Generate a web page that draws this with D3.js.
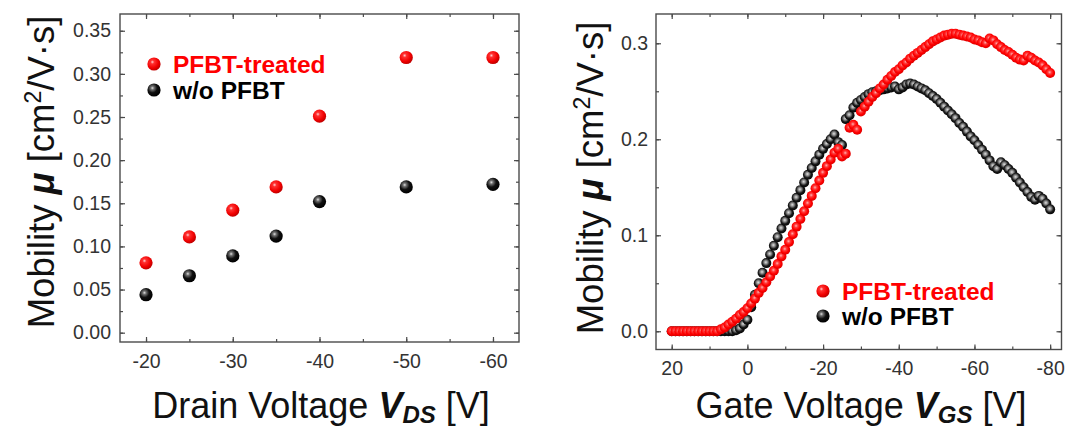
<!DOCTYPE html>
<html><head><meta charset="utf-8">
<script src="https://cdn.jsdelivr.net/npm/d3@7"></script>
<style>
body{margin:0;background:#fff}
svg{display:block}
text{font-family:"Liberation Sans",Arial,Helvetica,sans-serif}
</style>
</head><body>
<svg id="chart" width="1067" height="429"></svg>
<script>
// ---------- Left panel data (mobility vs drain voltage) ----------
const vdsValues = [-20, -25, -30, -35, -40, -50, -60];
const mobTreatedVds = [0.081, 0.111, 0.142, 0.169, 0.251, 0.319, 0.319];
const mobUntreatedVds = [0.044, 0.066, 0.089, 0.112, 0.152, 0.169, 0.172];
const vdsTicks = [-20, -30, -40, -50, -60];
const vdsMinorTicks = [-20, -25, -30, -35, -40, -45, -50, -55, -60];
const leftYTicks = [0, 0.05, 0.10, 0.15, 0.20, 0.25, 0.30, 0.35];
const leftYTickLabels = ["0.00", "0.05", "0.10", "0.15", "0.20", "0.25", "0.30", "0.35"];
const leftYMinorTicks = [0, 0.025, 0.05, 0.075, 0.10, 0.125, 0.15, 0.175, 0.20, 0.225, 0.25, 0.275, 0.30, 0.325, 0.35];

// ---------- Right panel data (mobility vs gate voltage) ----------
const vgsValues = [20, 19, 18, 17, 16, 15, 14, 13, 12, 11, 10, 9, 8, 7, 6, 5, 4, 3, 2, 1, 0,
  -1, -2, -3, -4, -5, -6, -7, -8, -9, -10, -11, -12, -13, -14, -15, -16, -17, -18, -19, -20,
  -21, -22, -23, -24, -25, -26, -27, -28, -29, -30, -31, -32, -33, -34, -35, -36, -37, -38, -39, -40,
  -41, -42, -43, -44, -45, -46, -47, -48, -49, -50, -51, -52, -53, -54, -55, -56, -57, -58, -59, -60,
  -61, -62, -63, -64, -65, -66, -67, -68, -69, -70, -71, -72, -73, -74, -75, -76, -77, -78, -79, -80];
const mobTreatedVgs = [0, 0, 0, 0, 0, 0, 0, 0, 0, 0, 0, 0, 0,
  0.002, 0.004, 0.007, 0.010, 0.013, 0.017, 0.020, 0.024,
  0.029, 0.034, 0.040, 0.045, 0.051, 0.057, 0.063, 0.070, 0.078, 0.085,
  0.093, 0.101, 0.109, 0.117, 0.125, 0.133, 0.141, 0.149, 0.157, 0.165,
  0.172, 0.179, 0.186, 0.190, 0.182, 0.185, 0.212, 0.215, 0.210, 0.229,
  0.234, 0.239, 0.244, 0.248, 0.253, 0.257, 0.262, 0.266, 0.270, 0.273,
  0.277, 0.280, 0.284, 0.287, 0.290, 0.293, 0.296, 0.299, 0.302, 0.304,
  0.306, 0.308, 0.309, 0.310, 0.310, 0.309, 0.308, 0.307, 0.306, 0.304,
  0.303, 0.301, 0.300, 0.305, 0.303, 0.299, 0.296, 0.293, 0.291, 0.288,
  0.285, 0.283, 0.282, 0.287, 0.285, 0.282, 0.280, 0.277, 0.273, 0.269];
const mobUntreatedVgs = [0, 0, 0, 0, 0, 0, 0, 0, 0, 0, 0, 0, 0, 0, 0, 0, 0,
  0.001, 0.003, 0.007, 0.012,
  0.025, 0.038, 0.050, 0.061, 0.071, 0.080, 0.089, 0.098, 0.107, 0.115,
  0.123, 0.131, 0.139, 0.147, 0.155, 0.163, 0.170, 0.177, 0.184, 0.190,
  0.195, 0.200, 0.205, 0.197, 0.194, 0.221, 0.225, 0.233, 0.238, 0.241,
  0.244, 0.247, 0.249, 0.250, 0.251, 0.252, 0.253, 0.254, 0.255, 0.252,
  0.254, 0.257, 0.258, 0.257, 0.255, 0.253, 0.251, 0.248, 0.245, 0.242,
  0.238, 0.234, 0.230, 0.226, 0.222, 0.217, 0.213, 0.208, 0.203, 0.199,
  0.194, 0.189, 0.184, 0.178, 0.172, 0.169, 0.176, 0.173, 0.169, 0.165,
  0.160, 0.155, 0.150, 0.145, 0.140, 0.137, 0.141, 0.138, 0.133, 0.127];
const vgsTicks = [20, 0, -20, -40, -60, -80];
const vgsMinorTicks = [20, 10, 0, -10, -20, -30, -40, -50, -60, -70, -80];
const rightYTicks = [0, 0.1, 0.2, 0.3];
const rightYTickLabels = ["0.0", "0.1", "0.2", "0.3"];
const rightYMinorTicks = [0, 0.05, 0.1, 0.15, 0.2, 0.25, 0.3];

const seriesNames = ["PFBT-treated", "w/o PFBT"];

// ---------- Drawing ----------
const svg = d3.select("#chart");
const defs = svg.append("defs");
function grad(id, stops, cx, cy, r) {
  const g = defs.append("radialGradient").attr("id", id)
    .attr("cx", cx).attr("cy", cy).attr("r", r).attr("fx", cx).attr("fy", cy);
  stops.forEach(s => g.append("stop").attr("offset", s[0]).attr("stop-color", s[1]));
}
grad("redBig", [["0%", "#ffd0d0"], ["22%", "#ff3030"], ["70%", "#f00000"], ["100%", "#c00000"]], "38%", "35%", "65%");
grad("blackBig", [["0%", "#e0e0e0"], ["20%", "#707070"], ["55%", "#101010"], ["100%", "#000"]], "38%", "35%", "65%");
grad("redSmall", [["0%", "#ffb0b0"], ["30%", "#ff3a3a"], ["65%", "#ff0000"], ["100%", "#d80000"]], "45%", "42%", "60%");
grad("blackSmall", [["0%", "#e0e0e0"], ["30%", "#8a8a8a"], ["62%", "#1a1a1a"], ["100%", "#000"]], "45%", "42%", "60%");

const frameColor = "#4a4a4a";
const tickColor = "#333";

function panel(cfg) {
  const g = svg.append("g");
  const x = cfg.x, y = cfg.y;
  const [x0, x1] = x.range();
  const [y0, y1] = y.range(); // y0 bottom, y1 top
  const minorLen = 3, majorLen = 5;
  const addAxis = (axis, tr) => {
    const a = g.append("g").attr("transform", tr).call(axis);
    a.select(".domain").remove();
    a.selectAll("line").attr("stroke", frameColor).attr("stroke-width", 1.2);
    return a;
  };
  addAxis(d3.axisBottom(x).tickValues(cfg.xMinor).tickSize(-minorLen).tickFormat(""), `translate(0,${y0})`);
  addAxis(d3.axisTop(x).tickValues(cfg.xMinor).tickSize(-minorLen).tickFormat(""), `translate(0,${y1})`);
  addAxis(d3.axisLeft(y).tickValues(cfg.yMinor).tickSize(-minorLen).tickFormat(""), `translate(${x0},0)`);
  addAxis(d3.axisRight(y).tickValues(cfg.yMinor).tickSize(-minorLen).tickFormat(""), `translate(${x1},0)`);
  const bx = addAxis(d3.axisBottom(x).tickValues(cfg.xTicks).tickSize(-majorLen).tickPadding(cfg.xPad)
      .tickFormat(d => String(d)), `translate(0,${y0})`);
  addAxis(d3.axisTop(x).tickValues(cfg.xTicks).tickSize(-majorLen).tickFormat(""), `translate(0,${y1})`);
  const ly = addAxis(d3.axisLeft(y).tickValues(cfg.yTicks).tickSize(-majorLen).tickPadding(cfg.yPad)
      .tickFormat((d, i) => cfg.yLabels[i]), `translate(${x0},0)`);
  addAxis(d3.axisRight(y).tickValues(cfg.yTicks).tickSize(-majorLen).tickFormat(""), `translate(${x1},0)`);
  [bx, ly].forEach(a => a.selectAll("text").attr("fill", tickColor)
      .style("font-size", "19.5px").style("font-family", '"Liberation Sans",Arial,sans-serif'));
  g.append("rect").attr("x", x0).attr("y", y1).attr("width", x1 - x0).attr("height", y0 - y1)
    .attr("fill", "none").attr("stroke", frameColor).attr("stroke-width", 1.4);
  return g;
}

// Left panel
const xL = d3.scaleLinear().domain([-17, -63]).range([120, 519]);
const yL = d3.scaleLinear().domain([-0.0108, 0.3694]).range([342, 14]);
const gL = panel({x: xL, y: yL, xTicks: vdsTicks, xMinor: vdsMinorTicks, yTicks: leftYTicks,
  yLabels: leftYTickLabels, yMinor: leftYMinorTicks, xPad: 12, yPad: 9});
gL.append("g").selectAll("circle").data(vdsValues).join("circle")
  .attr("cx", d => xL(d)).attr("cy", (d, i) => yL(mobUntreatedVds[i])).attr("r", 6.6)
  .attr("fill", "url(#blackBig)");
gL.append("g").selectAll("circle").data(vdsValues).join("circle")
  .attr("cx", d => xL(d)).attr("cy", (d, i) => yL(mobTreatedVds[i])).attr("r", 6.6)
  .attr("fill", "url(#redBig)");

// Right panel
const xR = d3.scaleLinear().domain([24.15, -83]).range([656, 1061.5]);
const yR = d3.scaleLinear().domain([-0.019, 0.3305]).range([349.5, 14]);
const gR = panel({x: xR, y: yR, xTicks: vgsTicks, xMinor: vgsMinorTicks, yTicks: rightYTicks,
  yLabels: rightYTickLabels, yMinor: rightYMinorTicks, xPad: 12, yPad: 8});
gR.append("g").selectAll("circle").data(vgsValues).join("circle")
  .attr("cx", d => xR(d)).attr("cy", (d, i) => yR(mobUntreatedVgs[i])).attr("r", 5)
  .attr("fill", "url(#blackSmall)");
gR.append("g").selectAll("circle").data(vgsValues).join("circle")
  .attr("cx", d => xR(d)).attr("cy", (d, i) => yR(mobTreatedVgs[i])).attr("r", 5)
  .attr("fill", "url(#redSmall)");

// Legends
function legend(lx, ly, gap, r) {
  const g = svg.append("g");
  const colors = ["#ff0000", "#000"];
  const fills = ["url(#redBig)", "url(#blackBig)"];
  seriesNames.forEach((name, i) => {
    g.append("circle").attr("cx", lx).attr("cy", ly + i * gap).attr("r", r).attr("fill", fills[i]);
    g.append("text").attr("x", lx + 19).attr("y", ly + i * gap).attr("dy", "0.36em")
      .attr("fill", colors[i]).style("font-size", "24.5px").style("font-weight", "bold").text(name);
  });
}
legend(154, 64, 26, 6.6);
legend(823, 291, 25, 6.6);

// Axis titles
function yTitle(cx, cy) {
  const t = svg.append("text").attr("transform", `translate(${cx},${cy}) rotate(-90)`)
    .attr("text-anchor", "middle").attr("fill", "#111").style("font-size", "36.5px");
  t.append("tspan").text("Mobility ");
  t.append("tspan").style("font-weight", "bold").style("font-style", "italic").text("\u03BC");
  t.append("tspan").text(" [cm");
  t.append("tspan").attr("dy", -13).style("font-size", "23px").text("2");
  t.append("tspan").attr("dy", 13).text("/V\u00B7s]");
}
yTitle(54, 172);
yTitle(603, 178);

function xTitle(cx, base, prefix, sub) {
  const t = svg.append("text").attr("x", cx).attr("y", base)
    .attr("text-anchor", "middle").attr("fill", "#111").style("font-size", "36px");
  t.append("tspan").text(prefix + " ");
  t.append("tspan").style("font-weight", "bold").style("font-style", "italic").text("V");
  t.append("tspan").attr("dy", 5).style("font-weight", "bold").style("font-style", "italic")
    .style("font-size", "24px").text(sub);
  t.append("tspan").attr("dy", -5).text(" [V]");
}
xTitle(321, 418, "Drain Voltage", "DS");
xTitle(861, 418, "Gate Voltage", "GS");
</script>
</body></html>
